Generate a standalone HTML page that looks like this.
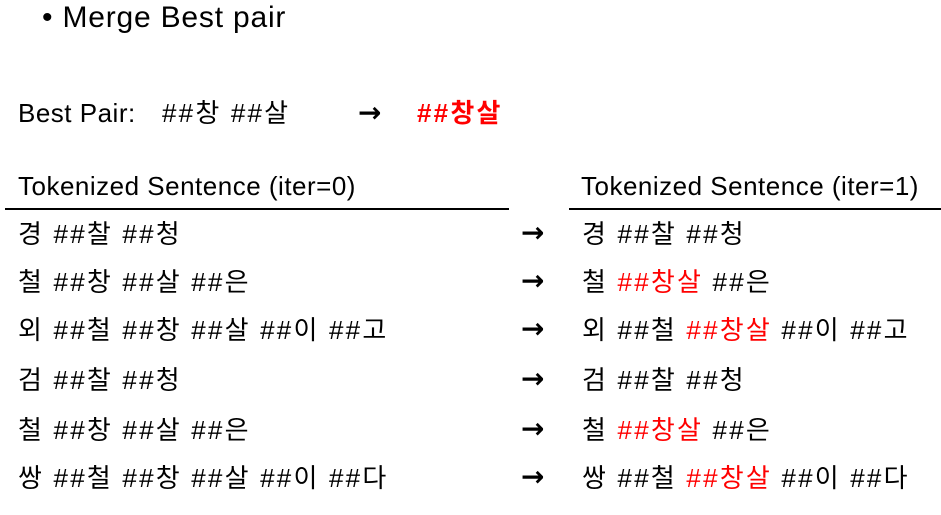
<!DOCTYPE html>
<html><head><meta charset="utf-8"><style>
html,body{margin:0;padding:0;background:#fff}
body{width:941px;height:515px;position:relative;overflow:hidden;font-family:"Liberation Sans","Noto Sans CJK KR",sans-serif;color:#000}
.t{position:absolute;font-size:26px;line-height:30px;white-space:nowrap;letter-spacing:0.5px}
.k{letter-spacing:2.2px}
.a{font-family:"DejaVu Sans",sans-serif;font-weight:600;font-size:28px}
.r{color:#f00}
.line{position:absolute;height:2px;background:#000}
</style></head><body>
<div class="t" style="left:42px;top:3px;font-size:30px;letter-spacing:0.8px">• Merge Best pair</div>
<div class="t" style="left:18px;top:98px">Best Pair:</div>
<div class="t k" style="left:162px;top:98px">##창 ##살</div>
<div class="t a" style="left:358px;top:98px">→</div>
<div class="t r k" style="left:417px;top:98px;font-weight:bold">##창살</div>

<div class="t" style="left:18px;top:171px">Tokenized Sentence (iter=0)</div>
<div class="line" style="left:5px;top:208px;width:504px"></div>
<div class="t" style="left:581px;top:171px">Tokenized Sentence (iter=1)</div>
<div class="line" style="left:569px;top:208px;width:372px"></div>

<div class="t k" style="left:18px;top:219px">경 ##찰 ##청</div>
<div class="t k" style="left:18px;top:267px">철 ##창 ##살 ##은</div>
<div class="t k" style="left:18px;top:315px">외 ##철 ##창 ##살 ##이 ##고</div>
<div class="t k" style="left:18px;top:365px">검 ##찰 ##청</div>
<div class="t k" style="left:18px;top:415px">철 ##창 ##살 ##은</div>
<div class="t k" style="left:18px;top:463px">쌍 ##철 ##창 ##살 ##이 ##다</div>

<div class="t a" style="left:521px;top:218px">→</div>
<div class="t a" style="left:521px;top:266px">→</div>
<div class="t a" style="left:521px;top:314px">→</div>
<div class="t a" style="left:521px;top:364px">→</div>
<div class="t a" style="left:521px;top:414px">→</div>
<div class="t a" style="left:521px;top:462px">→</div>

<div class="t k" style="left:582px;top:219px">경 ##찰 ##청</div>
<div class="t k" style="left:582px;top:267px">철 <span class="r">##창살</span> ##은</div>
<div class="t k" style="left:582px;top:315px">외 ##철 <span class="r">##창살</span> ##이 ##고</div>
<div class="t k" style="left:582px;top:365px">검 ##찰 ##청</div>
<div class="t k" style="left:582px;top:415px">철 <span class="r">##창살</span> ##은</div>
<div class="t k" style="left:582px;top:463px">쌍 ##철 <span class="r">##창살</span> ##이 ##다</div>
</body></html>
